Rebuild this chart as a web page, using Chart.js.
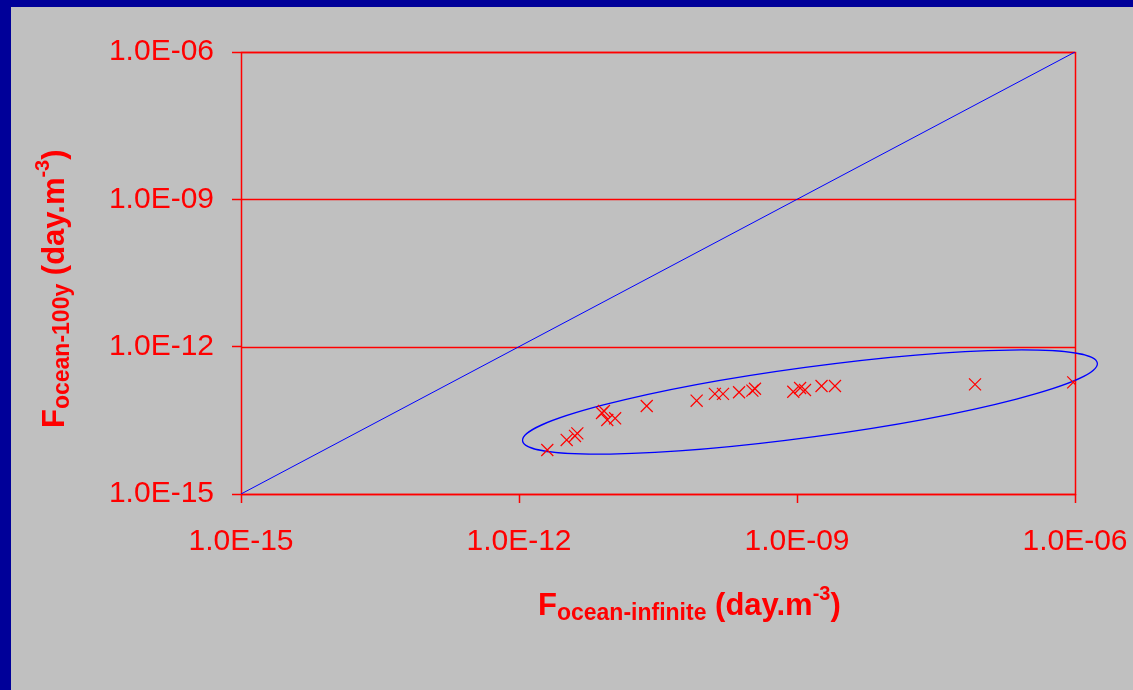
<!DOCTYPE html>
<html>
<head>
<meta charset="utf-8">
<script src="https://cdn.jsdelivr.net/npm/chart.js@4.4.1/dist/chart.umd.min.js"></script>
<style>
  html, body { margin: 0; padding: 0; }
  body { width: 1133px; height: 690px; background: #000099; overflow: hidden; }
  #wrap { position: absolute; left: 11px; top: 7px; width: 1122px; height: 683px; background: #C0C0C0; }
</style>
</head>
<body>
<div id="wrap"><canvas id="grafico" width="1122" height="683"></canvas></div>
<script>
// valores (escala log en ambos ejes)
const oceanInfinite = [2.02e-12, 3.27e-12, 4.02e-12, 4.26e-12, 7.87e-12, 8.26e-12, 8.97e-12, 1.09e-11,
    2.39e-11, 8.26e-11, 1.30e-10, 1.59e-10, 2.37e-10, 3.30e-10, 3.52e-10, 9.12e-10, 1.08e-9, 1.22e-9,
    1.84e-9, 2.57e-9, 8.34e-8, 9.57e-7];
const ocean100y = [7.87e-15, 1.26e-14, 1.52e-14, 1.72e-14, 4.46e-14, 4.90e-14, 3.21e-14, 3.48e-14,
    6.19e-14, 7.94e-14, 1.09e-13, 1.09e-13, 1.18e-13, 1.27e-13, 1.39e-13, 1.21e-13, 1.44e-13, 1.31e-13,
    1.58e-13, 1.58e-13, 1.71e-13, 1.88e-13];
const lineaUno = [1e-15, 1e-6];          // recta y = x
const tickValores = [1e-15, 1e-12, 1e-9, 1e-6];
const tickEtiquetas = ['1.0E-15', '1.0E-12', '1.0E-09', '1.0E-06'];
const elipseCentro = { x: 1.38e-9, y: 7.46e-14 };

const ROJO = '#FF0000';
const AZUL = '#0000FF';
const FUENTE = '"Liberation Sans", Arial, sans-serif';

function etiqueta(v) {
    const i = tickValores.findIndex(t => Math.abs(Math.log10(t) - Math.log10(v)) < 1e-6);
    return i >= 0 ? tickEtiquetas[i] : '';
}

// texto con subindice y superindice, desde (0,0) en la linea base
function textoCompuesto(ctx, principal, sub) {
    const partes = [
        { t: principal, f: 'bold 31px ' + FUENTE, dy: 0 },
        { t: sub, f: 'bold 23px ' + FUENTE, dy: 5 },
        { t: ' (day.m', f: 'bold 31px ' + FUENTE, dy: 0 },
        { t: '-3', f: 'bold 20px ' + FUENTE, dy: -15 },
        { t: ')', f: 'bold 31px ' + FUENTE, dy: 0 }
    ];
    let x = 0;
    partes.forEach(p => {
        ctx.font = p.f;
        ctx.fillText(p.t, x, p.dy);
        x += ctx.measureText(p.t).width;
    });
}

const extras = {
    id: 'extras',
    beforeDatasetsDraw(chart) {
        const { ctx, chartArea: a, scales } = chart;
        ctx.save();
        // lineas horizontales de la rejilla y marco
        ctx.strokeStyle = ROJO;
        ctx.lineWidth = 1.5;
        ctx.beginPath();
        tickValores.forEach(v => {
            const y = Math.round(scales.y.getPixelForValue(v)) + 0.5;
            ctx.moveTo(a.left, y);
            ctx.lineTo(a.right, y);
        });
        ctx.stroke();
        ctx.strokeRect(Math.round(a.left) + 0.5, Math.round(a.top) + 0.5,
            Math.round(a.right - a.left), Math.round(a.bottom - a.top));
        // elipse
        const cx = scales.x.getPixelForValue(elipseCentro.x);
        const cy = scales.y.getPixelForValue(elipseCentro.y);
        ctx.strokeStyle = AZUL;
        ctx.lineWidth = 1.3;
        ctx.beginPath();
        ctx.ellipse(cx, cy, 290, 35, -7.7 * Math.PI / 180, 0, Math.PI * 2);
        ctx.stroke();
        ctx.restore();
    },
    afterDraw(chart) {
        const { ctx } = chart;
        ctx.save();
        ctx.fillStyle = ROJO;
        ctx.textBaseline = 'alphabetic';
        ctx.textAlign = 'left';
        // titulo eje x
        ctx.save();
        ctx.translate(527, 608);
        textoCompuesto(ctx, 'F', 'ocean-infinite');
        ctx.restore();
        // titulo eje y
        ctx.save();
        ctx.translate(53, 421);
        ctx.rotate(-Math.PI / 2);
        textoCompuesto(ctx, 'F', 'ocean-100y');
        ctx.restore();
        ctx.restore();
    }
};

const puntos = oceanInfinite.map((x, i) => ({ x: x, y: ocean100y[i] }));

new Chart(document.getElementById('grafico').getContext('2d'), {
    type: 'scatter',
    data: {
        datasets: [
            {
                type: 'line',
                data: lineaUno.map(v => ({ x: v, y: v })),
                borderColor: AZUL,
                borderWidth: 1,
                pointRadius: 0,
                fill: false
            },
            {
                data: puntos,
                pointStyle: 'crossRot',
                pointRadius: 8.5,
                borderColor: ROJO,
                backgroundColor: ROJO,
                borderWidth: 1.2
            }
        ]
    },
    options: {
        responsive: false,
        animation: false,
        layout: { padding: { top: 45, right: 58, left: 0, bottom: 0 } },
        plugins: { legend: { display: false }, tooltip: { enabled: false } },
        scales: {
            x: {
                type: 'logarithmic',
                min: 1e-15,
                max: 1e-6,
                afterBuildTicks: s => { s.ticks = tickValores.map(v => ({ value: v })); },
                afterFit: s => { s.height = 196; s.paddingLeft = 0; s.paddingRight = 0; },
                grid: { drawOnChartArea: false, color: ROJO, tickColor: ROJO, tickLength: 9, tickWidth: 1.5 },
                border: { display: false },
                ticks: {
                    color: ROJO,
                    font: { family: FUENTE, size: 30 },
                    padding: 21,
                    maxRotation: 0,
                    autoSkip: false,
                    callback: v => etiqueta(v)
                }
            },
            y: {
                type: 'logarithmic',
                min: 1e-15,
                max: 1e-6,
                afterBuildTicks: s => { s.ticks = tickValores.map(v => ({ value: v })); },
                afterFit: s => { s.width = 230; },
                grid: { drawOnChartArea: false, color: ROJO, tickColor: ROJO, tickLength: 9, tickWidth: 1.5 },
                border: { display: false },
                ticks: {
                    color: ROJO,
                    font: { family: FUENTE, size: 30 },
                    padding: 18,
                    autoSkip: false,
                    callback: v => etiqueta(v)
                }
            }
        }
    },
    plugins: [extras]
});
</script>
</body>
</html>
